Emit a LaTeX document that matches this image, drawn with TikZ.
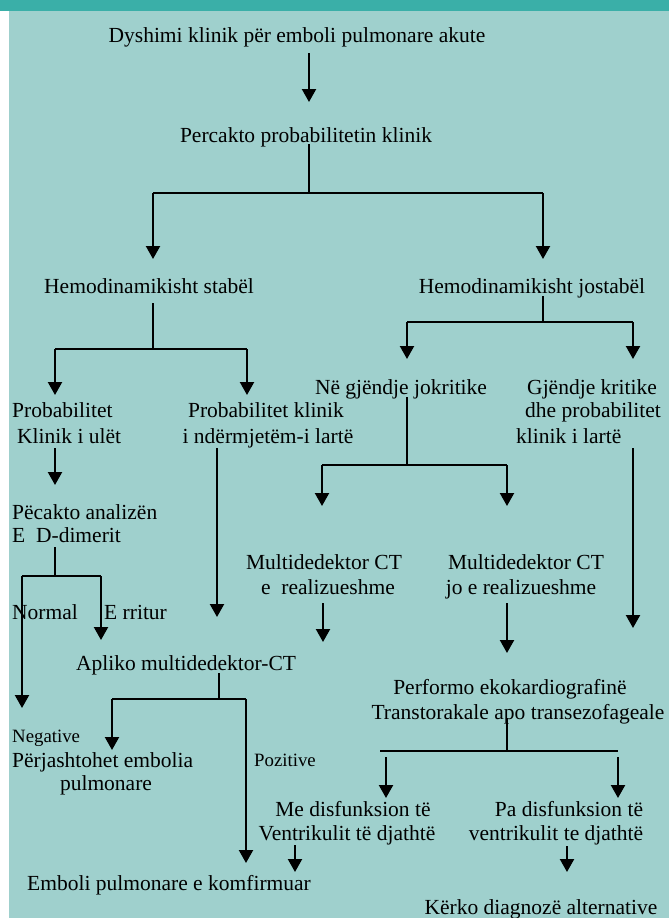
\documentclass[tikz,border=0pt]{standalone}
\usepackage{fontspec}
\setmainfont{Liberation Serif}
\newfontfamily\serifx{Liberation Serif}
\usetikzlibrary{arrows.meta}
\definecolor{bgteal}{RGB}{159,208,205}
\definecolor{barteal}{RGB}{58,175,168}
\newcommand\fsreg{\serifx\fontsize{21.5}{26}\selectfont}
\newcommand\fssml{\serifx\fontsize{18.8}{22}\selectfont}
\begin{document}
\begin{tikzpicture}[x=1pt,y=-1pt,
  txt/.style={font=\fsreg, inner sep=0pt, anchor=base},
  txtl/.style={font=\fsreg, inner sep=0pt, anchor=base west},
  sml/.style={font=\fssml, inner sep=0pt, anchor=base west},
  ln/.style={line width=1.2pt},
  arr/.style={line width=2.2pt, -{Triangle[width=14pt,length=13pt]}}]
\useasboundingbox (0,0) rectangle (669,918);
\fill[white] (0,0) rectangle (669,918);
\fill[bgteal] (9,11) rectangle (669,918);
\fill[barteal] (0,0) rectangle (669,11);

% texts
\node[txt] (t1) at (297,42) {Dyshimi klinik për emboli pulmonare akute};
\node[txt] (t2) at (306,142) {Percakto probabilitetin klinik};
\node[txt] (t3) at (149,293) {Hemodinamikisht stabël};
\node[txt] (t4) at (532,293) {Hemodinamikisht jostabël};
\node[txtl] (t5a) at (12,417) {Probabilitet};
\node[txtl] (t5b) at (17,443) {Klinik i ulët};
\node[txt] (t6a) at (266,417) {Probabilitet klinik};
\node[txt] (t6b) at (268,443) {i ndërmjetëm-i lartë};
\node[txt] (t7) at (401,394) {Në gjëndje jokritike};
\node[txt] (t8a) at (592,394) {Gjëndje kritike};
\node[txt] (t8b) at (593,417) {dhe probabilitet};
\node[txtl] (t8c) at (516,443) {klinik i lartë};
\node[txtl] (t9a) at (12,519) {Pëcakto analizën};
\node[txtl] (t9b) at (12,542) {E\ \ D-dimerit};
\node[txt] (t10a) at (324,569) {Multidedektor CT};
\node[txt] (t10b) at (328,594) {e\ \ realizueshme};
\node[txt] (t11a) at (526,569) {Multidedektor CT};
\node[txt] (t11b) at (521,594) {jo e realizueshme};
\node[txtl] (tnor) at (12,619) {Normal};
\node[txtl] (trri) at (104,619) {E rritur};
\node[txt] (tapl) at (186,670) {Apliko multidedektor-CT};
\node[sml] (tneg) at (12,742) {Negative};
\node[txtl] (tper) at (12,767) {Përjashtohet embolia};
\node[txt] (tpul) at (106,790) {pulmonare};
\node[sml] (tpoz) at (254,766) {Pozitive};
\node[txt] (tpfa) at (510,694) {Performo ekokardiografinë};
\node[txt] (tpfb) at (518,719) {Transtorakale apo transezofageale};
\node[txt] (tmea) at (353,816) {Me disfunksion të};
\node[txt] (tmeb) at (347,840) {Ventrikulit të djathtë};
\node[txt] (tpaa) at (569,816) {Pa disfunksion të};
\node[txt] (tpab) at (556,840) {ventrikulit te djathtë};
\node[txt] (temb) at (169,890) {Emboli pulmonare e komfirmuar};
\node[txt] (tker) at (541,914) {Kërko diagnozë alternative};

% junction coordinates
\coordinate (a1s) at (309,53);   \coordinate (a1e) at (309,102);
\coordinate (b0) at (309,144);   \coordinate (b1) at (309,193);
\coordinate (bl) at (153,193);   \coordinate (br) at (543,193);
\coordinate (blt) at (153,259);  \coordinate (brt) at (543,259);
\coordinate (c0) at (153,303);   \coordinate (c1) at (153,349);
\coordinate (cl) at (55,349);    \coordinate (cr) at (247,349);
\coordinate (clt) at (55,395);   \coordinate (crt) at (247,395);
\coordinate (d0) at (543,296);   \coordinate (d1) at (543,322);
\coordinate (dl) at (407,322);   \coordinate (dr) at (633,322);
\coordinate (dlt) at (407,359);  \coordinate (drt) at (633,359);
\coordinate (e0) at (407,397);   \coordinate (e1) at (407,465);
\coordinate (el) at (322,465);   \coordinate (er) at (507,465);
\coordinate (elt) at (322,506);  \coordinate (ert) at (507,506);
\coordinate (f0) at (55,448);    \coordinate (f1) at (55,485);
\coordinate (g0) at (217,448);   \coordinate (g1) at (217,617);
\coordinate (h0) at (633,448);   \coordinate (h1) at (633,628);
\coordinate (i0) at (55,547);    \coordinate (i1) at (55,576);
\coordinate (il) at (22,576);    \coordinate (ir) at (101,576);
\coordinate (ilt) at (22,708);   \coordinate (irt) at (101,640);
\coordinate (j0) at (323,603);   \coordinate (j1) at (323,642);
\coordinate (k0) at (507,603);   \coordinate (k1) at (507,653);
\coordinate (l0) at (219,673);   \coordinate (l1) at (219,699);
\coordinate (ll) at (112,699);   \coordinate (lr) at (246,699);
\coordinate (llt) at (112,750);  \coordinate (lrt) at (246,863);
\coordinate (m0) at (507,718);   \coordinate (m1) at (507,751);
\coordinate (ml) at (380,751);   \coordinate (mr) at (618,751);
\coordinate (n0) at (386,757);   \coordinate (n1) at (386,798);
\coordinate (o0) at (618,757);   \coordinate (o1) at (618,798);
\coordinate (p0) at (295,845);   \coordinate (p1) at (295,872);
\coordinate (q0) at (567,846);   \coordinate (q1) at (567,872);

% connectors
\draw[arr] (a1s) -- (a1e);
\draw[ln] (b0) -- (b1);
\draw[ln] (bl) -- (br);
\draw[arr] (bl) -- (blt);
\draw[arr] (br) -- (brt);
\draw[ln] (c0) -- (c1);
\draw[ln] (cl) -- (cr);
\draw[arr] (cl) -- (clt);
\draw[arr] (cr) -- (crt);
\draw[ln] (d0) -- (d1);
\draw[ln] (dl) -- (dr);
\draw[arr] (dl) -- (dlt);
\draw[arr] (dr) -- (drt);
\draw[ln] (e0) -- (e1);
\draw[ln] (el) -- (er);
\draw[arr] (el) -- (elt);
\draw[arr] (er) -- (ert);
\draw[arr] (f0) -- (f1);
\draw[arr] (g0) -- (g1);
\draw[arr] (h0) -- (h1);
\draw[ln] (i0) -- (i1);
\draw[ln] (il) -- (ir);
\draw[arr] (il) -- (ilt);
\draw[arr] (ir) -- (irt);
\draw[arr] (j0) -- (j1);
\draw[arr] (k0) -- (k1);
\draw[ln] (l0) -- (l1);
\draw[ln] (ll) -- (lr);
\draw[arr] (ll) -- (llt);
\draw[arr] (lr) -- (lrt);
\draw[ln] (m0) -- (m1);
\draw[ln] (ml) -- (mr);
\draw[arr] (n0) -- (n1);
\draw[arr] (o0) -- (o1);
\draw[arr] (p0) -- (p1);
\draw[arr] (q0) -- (q1);
\end{tikzpicture}
\end{document}
